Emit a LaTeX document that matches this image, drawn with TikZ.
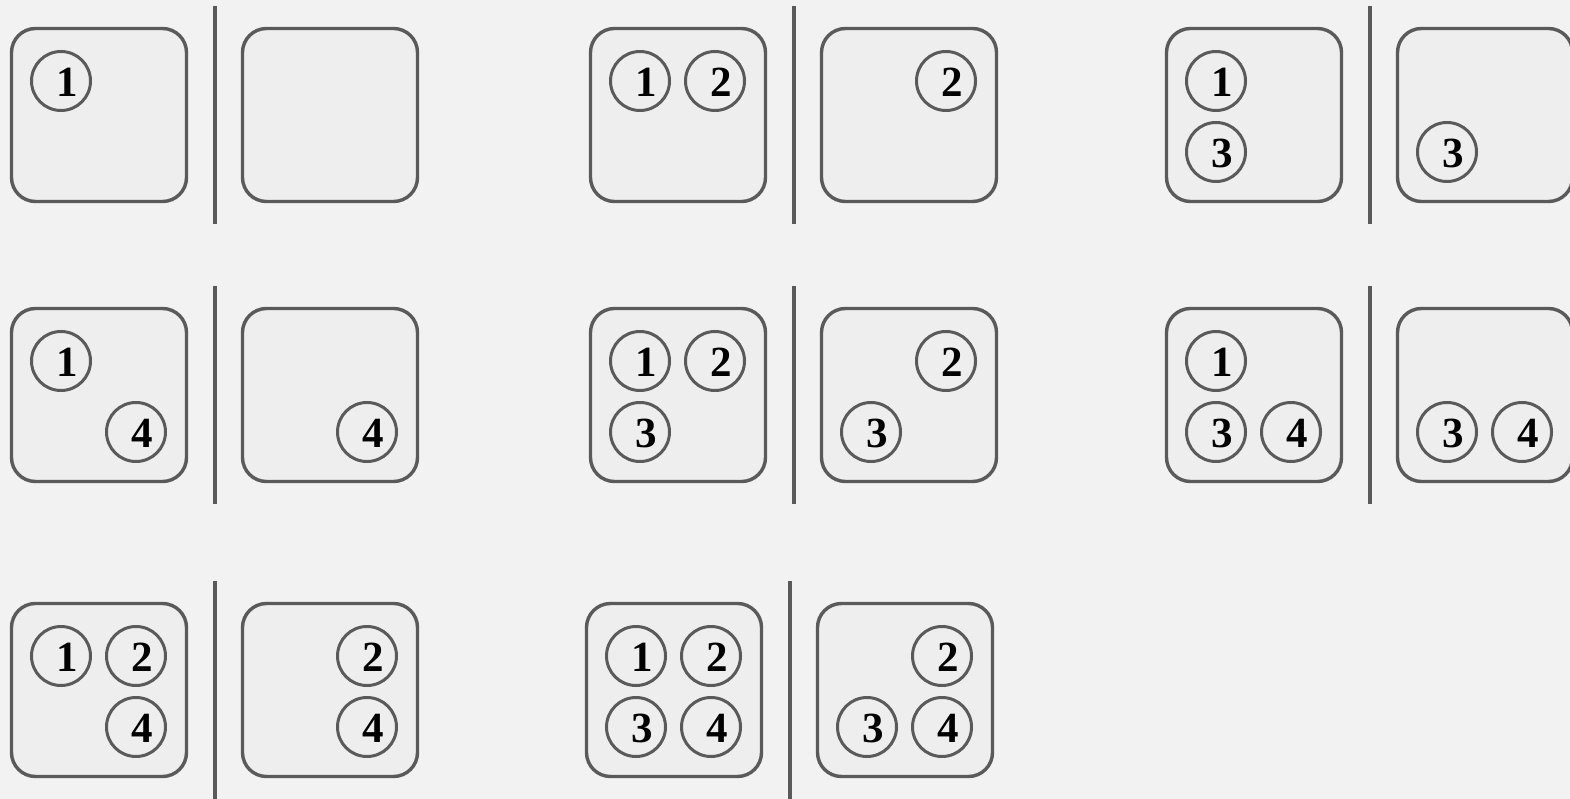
\documentclass[tikz,border=0pt]{standalone}
\usepackage{fontspec}
\setmainfont{Liberation Serif}
\definecolor{pagegray}{HTML}{F2F2F2}
\definecolor{trayfill}{HTML}{EEEEEE}
\definecolor{rimgray}{HTML}{5A5A5A}

\begin{document}
\begin{tikzpicture}[
  x=1pt, y=-1pt,
  tray/.style={draw=rimgray, fill=trayfill, line width=3.4pt, rounded corners=24pt,
    minimum width=175pt, minimum height=173pt, inner sep=0pt},
  ball/.style={draw=rimgray, line width=3pt, circle, minimum size=59pt, inner sep=0pt},
  digit/.style={font=\fontsize{43}{43}\selectfont\bfseries, xshift=6pt, yshift=-1pt, inner sep=0pt},
  divider/.style={draw=rimgray, line width=3.8pt}
]
\clip (0,0) rectangle (1570,799);
\fill[pagegray] (0,0) rectangle (1570,799);

% each pair: tray before, divider, tray after
\foreach \gx/\gy/\g in {10/27/1, 589/27/2, 1165/27/3,
                        10/307/4, 589/307/5, 1165/307/6,
                        10/602/7, 585/602/8} {
  \node[tray] (L\g) at (\gx+89,\gy+88) {};
  \node[tray] (R\g) at (\gx+320,\gy+88) {};
  \draw[divider] (\gx+205,\gy-21) -- (\gx+205,\gy+197);
}

% numbered balls, cells 1 2 / 3 4
\foreach \b/\k in {L1/1, L2/1, L2/2, R2/2, L3/1, L3/3, R3/3,
                   L4/1, L4/4, R4/4, L5/1, L5/2, L5/3, R5/2, R5/3,
                   L6/1, L6/3, L6/4, R6/3, R6/4,
                   L7/1, L7/2, L7/4, R7/2, R7/4,
                   L8/1, L8/2, L8/3, L8/4, R8/2, R8/3, R8/4} {
  \pgfmathsetmacro\dx{ifthenelse(mod(\k,2)==1,-38,37)}
  \pgfmathsetmacro\dy{ifthenelse(\k<3,-34,37)}
  \node[ball, label={[digit]center:\k}] (\b-\k) at ([shift={(\dx,\dy)}]\b.center) {};
}
\end{tikzpicture}
\end{document}
